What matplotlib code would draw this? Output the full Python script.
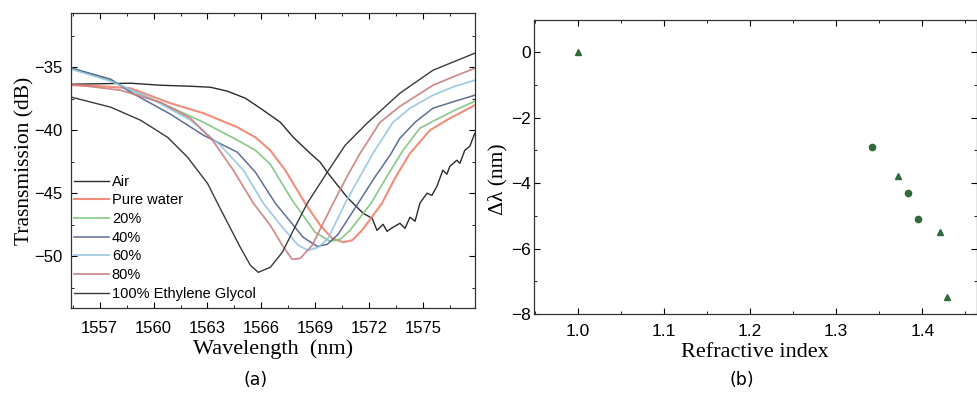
import numpy as np
import matplotlib
matplotlib.use("Agg")
import matplotlib.pyplot as plt
from matplotlib.ticker import MultipleLocator, FormatStrFormatter

# ---- panel (a): transmission spectra ----
air_wl = [1555.44, 1558.72, 1560.39, 1562.06, 1563.17, 1564.11, 1565.11, 1565.94, 1567.06, 1567.78,
          1568.72, 1569.28, 1569.67, 1570.78, 1571.67, 1572.17, 1572.44, 1572.78, 1573.0, 1573.33,
          1573.72, 1574.0, 1574.28, 1574.56, 1574.83, 1575.22, 1575.5, 1575.78, 1576.11, 1576.33,
          1576.5, 1576.89, 1577.06, 1577.33, 1577.61, 1577.89]
air_db = [-36.35, -36.27, -36.43, -36.51, -36.59, -36.90, -37.46, -38.25, -39.37, -40.56,
          -41.83, -42.54, -43.33, -45.32, -46.59, -46.98, -47.94, -47.46, -48.02, -47.70,
          -47.38, -47.78, -46.90, -47.22, -45.79, -45.00, -45.16, -44.44, -43.17, -43.49,
          -42.86, -42.38, -42.62, -41.59, -41.27, -40.24]

water_wl = [1555.44, 1557.06, 1558.72, 1560.94, 1562.78, 1564.67, 1565.67, 1566.5, 1567.33, 1568.44,
            1569.28, 1569.94, 1570.56, 1571.06, 1571.61, 1572.72, 1573.44, 1574.28, 1575.39, 1576.5, 1577.89]
water_db = [-36.43, -36.51, -36.67, -37.86, -38.65, -39.76, -40.56, -41.59, -43.17, -45.79,
            -47.54, -48.57, -48.89, -48.73, -47.94, -45.79, -43.81, -41.83, -40.00, -39.05, -38.02]

p20_wl = [1555.44, 1557.61, 1558.72, 1560.94, 1562.78, 1564.67, 1565.67, 1566.5, 1567.72, 1569.0,
          1569.83, 1570.39, 1570.94, 1572.11, 1573.0, 1573.89, 1574.83, 1575.56, 1576.78, 1577.89]
p20_db = [-35.08, -36.03, -36.83, -38.17, -39.37, -40.79, -41.59, -42.70, -45.56, -48.10,
          -48.81, -48.65, -47.94, -45.79, -43.65, -41.59, -39.84, -39.29, -38.41, -37.70]

p40_wl = [1555.44, 1557.61, 1558.72, 1560.94, 1562.78, 1564.67, 1565.67, 1566.78, 1568.33, 1569.11,
          1569.67, 1570.28, 1571.39, 1572.28, 1573.17, 1573.72, 1574.56, 1575.56, 1576.78, 1577.89]
p40_db = [-35.08, -35.95, -36.98, -38.73, -40.40, -41.75, -43.33, -45.79, -48.49, -49.21,
          -49.05, -48.25, -45.79, -43.81, -41.98, -40.63, -39.37, -38.25, -37.70, -37.22]

p60_wl = [1555.44, 1557.61, 1559.83, 1562.06, 1563.72, 1565.0, 1566.11, 1567.22, 1568.06, 1568.61,
          1569.17, 1569.72, 1570.67, 1571.5, 1572.22, 1573.33, 1574.28, 1575.56, 1576.78, 1577.89]
p60_db = [-35.16, -36.11, -37.46, -39.21, -41.19, -43.17, -45.79, -47.78, -49.13, -49.52,
          -49.29, -48.57, -45.79, -43.65, -41.83, -39.37, -38.25, -37.22, -36.51, -36.03]

p80_wl = [1555.44, 1558.17, 1560.39, 1562.06, 1563.28, 1564.44, 1565.56, 1566.5, 1567.17, 1567.72,
          1568.17, 1568.83, 1570.0, 1570.78, 1571.5, 1572.61, 1573.72, 1575.56, 1576.78, 1577.89]
p80_db = [-36.35, -36.83, -37.78, -39.05, -40.79, -43.17, -45.79, -47.54, -49.13, -50.24,
          -50.16, -49.13, -45.79, -43.65, -41.83, -39.37, -38.10, -36.43, -35.71, -35.08]

eg_wl = [1555.44, 1557.61, 1559.28, 1560.78, 1561.89, 1563.0, 1563.56, 1564.28, 1564.83, 1565.39,
         1565.83, 1566.5, 1567.17, 1567.78, 1568.56, 1569.67, 1570.67, 1571.89, 1573.72, 1575.56, 1577.89]
eg_db = [-37.38, -38.17, -39.21, -40.56, -42.14, -44.21, -45.79, -47.78, -49.29, -50.71,
         -51.27, -50.87, -49.68, -47.94, -45.79, -43.33, -41.19, -39.44, -37.06, -35.24, -33.89]

# ---- panel (b): wavelength shift vs refractive index ----
ri_tri = [1.0, 1.372, 1.421, 1.429]
shift_tri = [0.0, -3.78, -5.5, -7.48]
ri_circ = [1.342, 1.383, 1.395]
shift_circ = [-2.9, -4.3, -5.1]

sans = ["Liberation Sans", "DejaVu Sans"]
serif = ["Liberation Serif", "DejaVu Serif"]
plt.rcParams["font.family"] = sans


def style_axes(ax, fs):
    ax.tick_params(which="both", direction="in", top=True, right=True, labelsize=fs)
    ax.tick_params(which="major", length=4, width=0.8)
    ax.tick_params(which="minor", length=2.5, width=0.6)
    for sp in ax.spines.values():
        sp.set_linewidth(0.9)
        sp.set_color("#333333")


fig = plt.figure(figsize=(9.78, 3.96), dpi=100)

# (a)
ax1 = fig.add_axes([0.0726, 0.2222, 0.4131, 0.745])
ax1.plot(air_wl, air_db, color="#2b2b2b", lw=1.0, label="Air")
ax1.plot(water_wl, water_db, color="#ef7a62", lw=1.5, alpha=0.85, label="Pure water")
ax1.plot(p20_wl, p20_db, color="#7cc27c", lw=1.3, alpha=0.85, label="20%")
ax1.plot(p40_wl, p40_db, color="#4f5d8e", lw=1.1, alpha=0.9, label="40%")
ax1.plot(p60_wl, p60_db, color="#92c4e2", lw=1.3, alpha=0.85, label="60%")
ax1.plot(p80_wl, p80_db, color="#c97a7a", lw=1.3, alpha=0.85, label="80%")
ax1.plot(eg_wl, eg_db, color="#3a3a3a", lw=1.0, label="100% Ethylene Glycol")
ax1.set_xlim(1555.4, 1577.9)
ax1.set_ylim(-54.1, -30.7)
ax1.set_xticks(np.arange(1557, 1577, 3))
ax1.xaxis.set_minor_locator(MultipleLocator(1.5))
ax1.set_yticks([-35, -40, -45, -50])
ax1.yaxis.set_minor_locator(MultipleLocator(2.5))
style_axes(ax1, 12)
ax1.tick_params(axis="x", which="major", pad=9)
ax1.tick_params(axis="y", which="major", pad=6)
ax1.set_xlabel("Wavelength  (nm)", family=serif, fontsize=16, labelpad=3)
ax1.set_ylabel("Trasnsmission (dB)", family=serif, fontsize=15.5)
ax1.yaxis.set_label_coords(-0.09, 0.5)
ax1.legend(loc="lower left", bbox_to_anchor=(0.0, 0.015), frameon=False,
           prop={"family": sans, "size": 10.5}, handlelength=2.4,
           handletextpad=0.2, labelspacing=0.32, borderaxespad=0, borderpad=0.2)

# (b)
ax2 = fig.add_axes([0.546, 0.2071, 0.4525, 0.7424])
ax2.plot(ri_tri, shift_tri, linestyle="none", marker="^", markersize=5, color="#2f6b3b")
ax2.plot(ri_circ, shift_circ, linestyle="none", marker="o", markersize=4.5, color="#2f6b3b")
ax2.set_xlim(0.949, 1.463)
ax2.set_ylim(-8, 0.98)
ax2.xaxis.set_major_locator(MultipleLocator(0.1))
ax2.xaxis.set_minor_locator(MultipleLocator(0.05))
ax2.xaxis.set_major_formatter(FormatStrFormatter("%.1f"))
ax2.yaxis.set_major_locator(MultipleLocator(2))
ax2.yaxis.set_minor_locator(MultipleLocator(1))
style_axes(ax2, 12.5)
ax2.tick_params(axis="y", which="major", pad=2)
ax2.tick_params(axis="x", which="major", pad=7)
ax2.set_xlabel("Refractive index", family=serif, fontsize=16, labelpad=3)
ax2.set_ylabel("\u0394\u03bb (nm)", family=serif, fontsize=15.5)
ax2.yaxis.set_label_coords(-0.06, 0.46)

fig.text(0.261, 0.04, "(a)", ha="center", va="center", fontsize=12.5, family="DejaVu Sans")
fig.text(0.759, 0.04, "(b)", ha="center", va="center", fontsize=12.5, family="DejaVu Sans")

fig.savefig("out.png", dpi=100)
